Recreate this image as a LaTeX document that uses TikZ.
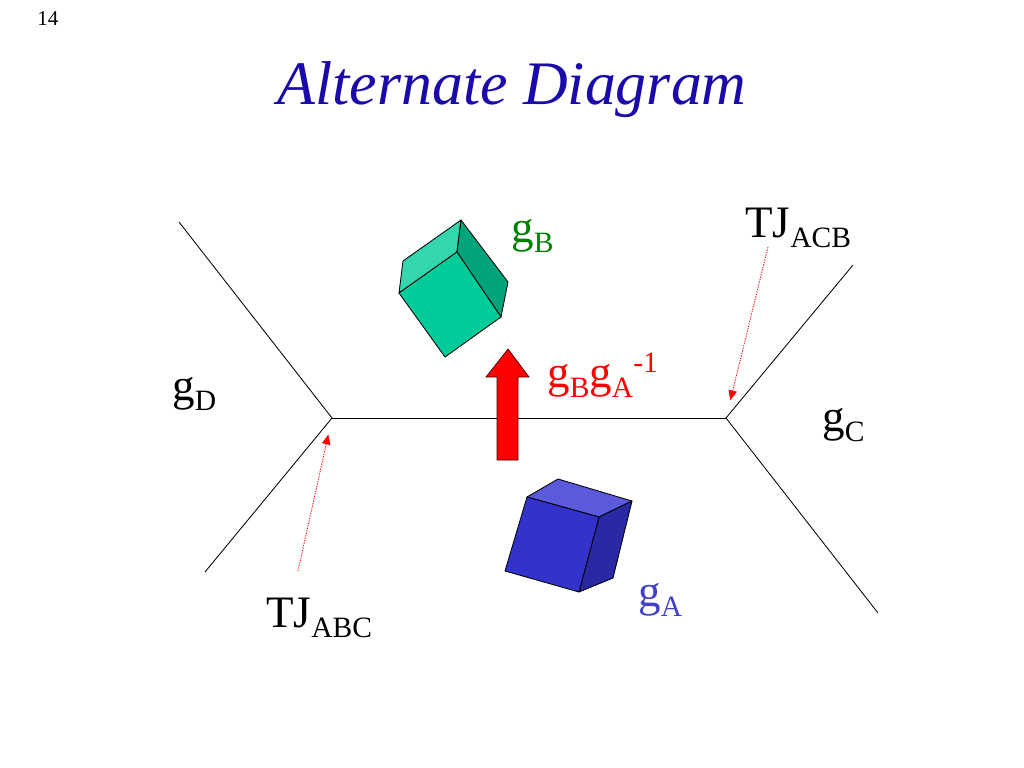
\documentclass[tikz,border=0pt]{standalone}
\usepackage{fontspec}
\setmainfont{Liberation Serif}
\usetikzlibrary{arrows.meta}

\definecolor{titleblue}{RGB}{26,10,170}
\definecolor{grainB}{RGB}{0,128,0}
\definecolor{grainA}{RGB}{64,64,200}
\definecolor{cubeBfront}{RGB}{0,204,153}
\definecolor{cubeBtop}{RGB}{51,214,173}
\definecolor{cubeBside}{RGB}{0,163,122}
\definecolor{cubeAfront}{RGB}{51,51,204}
\definecolor{cubeAtop}{RGB}{90,90,219}
\definecolor{cubeAside}{RGB}{41,41,163}

\tikzset{
  boundary/.style={draw=black,line width=0.6pt},
  tjarrow/.style={red,dash pattern=on 0.9pt off 0.9pt,line width=0.6pt,-{Triangle[length=7pt,width=6pt]}},
  lbl/.style={inner sep=0pt,anchor=base west,font=\fontsize{32}{36}\selectfont},
  face/.style={draw=black,line width=0.6pt,line join=round},
}
\newcommand\lo[1]{\raisebox{-0.24em}{\fontsize{21}{21}\selectfont #1}}
\newcommand\hi[1]{\raisebox{0.33em}{\fontsize{21}{21}\selectfont #1}}

\begin{document}
\begin{tikzpicture}[x=0.025cm,y=-0.025cm]
    \useasboundingbox (0,0) rectangle (1024,768);
    % heading
    \node[inner sep=0pt,anchor=base west,font=\fontsize{15}{18}\selectfont] (page) at (37,26) {14};
    \node[inner sep=0pt,anchor=base,text=titleblue,font=\fontsize{44}{50}\selectfont\itshape] (title) at (512,105) {Alternate Diagram};
    % junctions and boundary ends
    \coordinate (tjabc) at (332,418);
    \coordinate (tjacb) at (726,418);
    \coordinate (dtop) at (179,222);
    \coordinate (dbot) at (205,572);
    \coordinate (ctop) at (853,265);
    \coordinate (cbot) at (878,613);
    \draw[boundary] (dtop) -- (tjabc) -- (dbot);
    \draw[boundary] (tjabc) -- (tjacb);
    \draw[boundary] (ctop) -- (tjacb) -- (cbot);
    % grain labels
    \node[lbl] (gD) at (172,400) {g\lo{D}};
    \node[lbl] (gC) at (822,431) {g\lo{C}};
    \node[lbl,text=grainB] (gB) at (511,242) {g\lo{B}};
    \node[lbl,text=grainA] (gA) at (638,606) {g\lo{A}};
    \node[lbl,text=red] (gBA) at (547,387) {g\lo{B}g\lo{A}\hi{-1}};
    % triple junction labels
    \node[lbl] (abc) at (266,627) {TJ\lo{ABC}};
    \node[lbl] (acb) at (745,237) {TJ\lo{ACB}};
    \coordinate (abctail) at (298,571);
    \coordinate (acbtail) at (768,247);
    \draw[tjarrow,shorten >=12pt] (abctail) -- (tjabc);
    \draw[tjarrow,shorten >=13pt] (acbtail) -- (tjacb);
    % rotation arrow
    \filldraw[fill=red,draw=black!70!red,line width=0.5pt] (497,460) -- (518,460) -- (518,377) -- (529,377)
        -- (508,349) -- (486,377) -- (497,377) -- cycle;
    % cube B
    \filldraw[face,fill=cubeBtop] (461,220) -- (403,261) -- (399,293) -- (457,252) -- cycle;
    \filldraw[face,fill=cubeBside] (461,220) -- (508,282) -- (501,317) -- (457,252) -- cycle;
    \filldraw[face,fill=cubeBfront] (457,252) -- (399,293) -- (445,357) -- (501,317) -- cycle;
    % cube A
    \filldraw[face,fill=cubeAtop] (527,497) -- (558,479) -- (632,501) -- (599,517) -- cycle;
    \filldraw[face,fill=cubeAside] (599,517) -- (632,501) -- (613,578) -- (579,592) -- cycle;
    \filldraw[face,fill=cubeAfront] (527,497) -- (599,517) -- (579,592) -- (505,571) -- cycle;
\end{tikzpicture}
\end{document}
